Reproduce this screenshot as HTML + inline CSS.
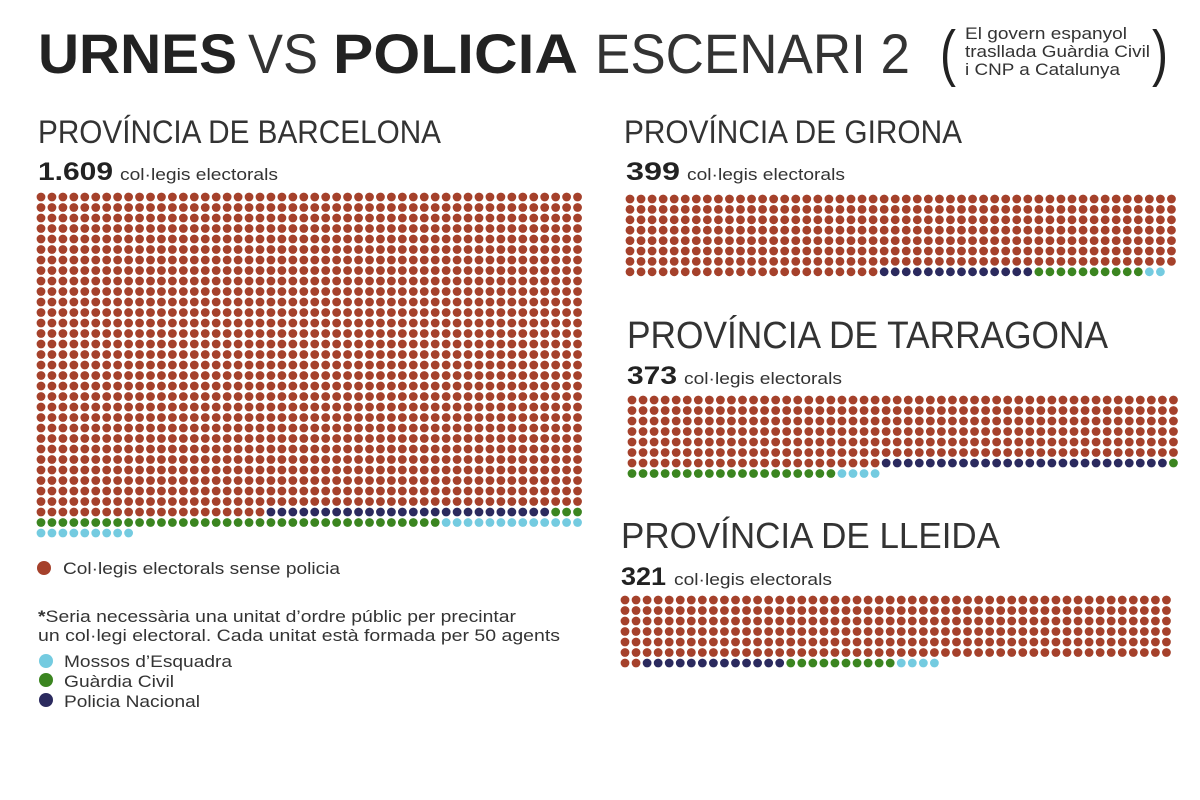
<!DOCTYPE html>
<html><head><meta charset="utf-8"><style>
html,body{margin:0;padding:0;background:#fff;}
svg{display:block;font-family:"Liberation Sans",sans-serif;}
</style></head><body>
<svg id="s" width="1200" height="800" viewBox="0 0 1200 800" xmlns="http://www.w3.org/2000/svg">
<rect width="1200" height="800" fill="#fff"/>
<g fill="#222">
<text x="38" y="73" font-size="56" font-weight="bold" textLength="199" lengthAdjust="spacingAndGlyphs">URNES</text>
<text x="248" y="73" font-size="56" font-weight="normal" textLength="70" lengthAdjust="spacingAndGlyphs" fill="#333">VS</text>
<text x="333" y="73" font-size="56" font-weight="bold" textLength="245" lengthAdjust="spacingAndGlyphs">POLICIA</text>
<text x="595" y="73" font-size="56" textLength="315" lengthAdjust="spacingAndGlyphs" fill="#333">ESCENARI 2</text>
<text x="940" y="74" font-size="62" textLength="16" lengthAdjust="spacingAndGlyphs" fill="#222">(</text>
<text x="1152" y="74" font-size="62" textLength="16" lengthAdjust="spacingAndGlyphs" fill="#222">)</text>
<text x="965" y="39" font-size="17" textLength="162" lengthAdjust="spacingAndGlyphs" fill="#333">El govern espanyol</text>
<text x="965" y="57" font-size="17" textLength="185" lengthAdjust="spacingAndGlyphs" fill="#333">trasllada Guàrdia Civil</text>
<text x="965" y="75" font-size="17" textLength="155" lengthAdjust="spacingAndGlyphs" fill="#333">i CNP a Catalunya</text>

<text x="38" y="143" font-size="32" textLength="403" lengthAdjust="spacingAndGlyphs" fill="#333">PROVÍNCIA DE BARCELONA</text>
<text x="38" y="180" font-size="25" font-weight="bold" textLength="75" lengthAdjust="spacingAndGlyphs">1.609</text>
<text x="120" y="180" font-size="17" textLength="158" lengthAdjust="spacingAndGlyphs" fill="#333">col·legis electorals</text>

<text x="624" y="143" font-size="32" textLength="338" lengthAdjust="spacingAndGlyphs" fill="#333">PROVÍNCIA DE GIRONA</text>
<text x="626" y="180" font-size="25" font-weight="bold" textLength="54" lengthAdjust="spacingAndGlyphs">399</text>
<text x="687" y="180" font-size="17" textLength="158" lengthAdjust="spacingAndGlyphs" fill="#333">col·legis electorals</text>

<text x="627" y="348" font-size="38" textLength="481" lengthAdjust="spacingAndGlyphs" fill="#333">PROVÍNCIA DE TARRAGONA</text>
<text x="627" y="384" font-size="25" font-weight="bold" textLength="50" lengthAdjust="spacingAndGlyphs">373</text>
<text x="684" y="384" font-size="17" textLength="158" lengthAdjust="spacingAndGlyphs" fill="#333">col·legis electorals</text>

<text x="621" y="548" font-size="36" textLength="379" lengthAdjust="spacingAndGlyphs" fill="#333">PROVÍNCIA DE LLEIDA</text>
<text x="621" y="585" font-size="25" font-weight="bold" textLength="45" lengthAdjust="spacingAndGlyphs">321</text>
<text x="674" y="585" font-size="17" textLength="158" lengthAdjust="spacingAndGlyphs" fill="#333">col·legis electorals</text>

<circle cx="44" cy="568" r="7" fill="#a5412b"/>
<text x="63" y="574" font-size="17" textLength="277" lengthAdjust="spacingAndGlyphs" fill="#333">Col·legis electorals sense policia</text>
<text x="38" y="622" font-size="17" textLength="478" lengthAdjust="spacingAndGlyphs" fill="#333"><tspan font-weight="bold">*</tspan>Seria necessària una unitat d’ordre públic per precintar</text>
<text x="38" y="641" font-size="17" textLength="522" lengthAdjust="spacingAndGlyphs" fill="#333">un col·legi electoral. Cada unitat està formada per 50 agents</text>
<circle cx="46" cy="661" r="7" fill="#74cbe0"/>
<text x="64" y="667" font-size="17" textLength="168" lengthAdjust="spacingAndGlyphs" fill="#333">Mossos d’Esquadra</text>
<circle cx="46" cy="680" r="7" fill="#3b8520"/>
<text x="64" y="687" font-size="17" textLength="110" lengthAdjust="spacingAndGlyphs" fill="#333">Guàrdia Civil</text>
<circle cx="46" cy="700" r="7" fill="#2b2a5e"/>
<text x="64" y="707" font-size="17" textLength="136" lengthAdjust="spacingAndGlyphs" fill="#333">Policia Nacional</text>
</g>
<g id="dots"></g>
</svg>
<script>
(function(){
var R='#a5412b',N='#2b2a5e',G='#3b8520',B='#74cbe0';
var g=document.getElementById('dots'),ns='http://www.w3.org/2000/svg';
function grid(x0,y0,dx,dy,rows,last){
 var seq=[];
 for(var i=0;i<rows*50;i++)seq.push(R);
 last.forEach(function(s){for(var k=0;k<s[1];k++)seq.push(s[0]);});
 seq.forEach(function(c,i){
  var r=Math.floor(i/50),col=i%50;
  var e=document.createElementNS(ns,'circle');
  e.setAttribute('cx',(x0+col*dx).toFixed(2));
  e.setAttribute('cy',(y0+r*dy).toFixed(2));
  e.setAttribute('r','4.4');e.setAttribute('fill',c);
  g.appendChild(e);
 });
}
grid(41,197,10.95,10.5,30,[[R,21],[N,26],[G,3],[G,37],[B,13],[B,9]]);
grid(630,199,11.05,10.4,7,[[R,23],[N,14],[G,10],[B,2]]);
grid(632,400,11.05,10.5,6,[[R,23],[N,26],[G,1],[G,19],[B,4]]);
grid(625,600,11.05,10.5,6,[[R,2],[N,13],[G,10],[B,4]]);
})();
</script>
</body></html>
